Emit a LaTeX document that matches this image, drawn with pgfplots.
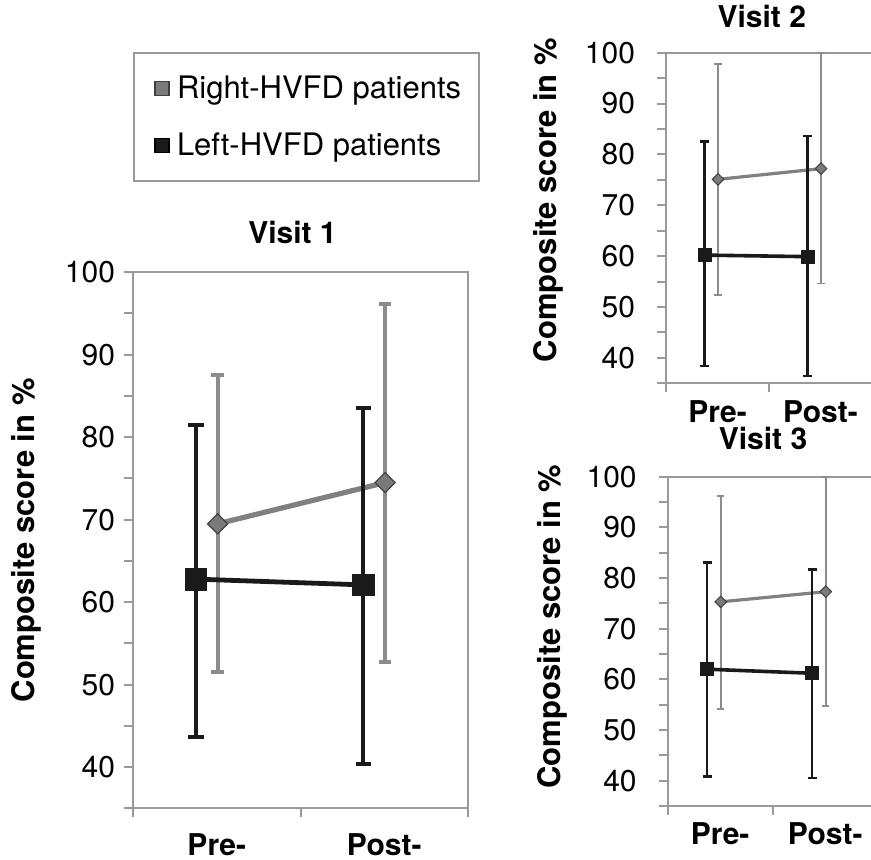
\documentclass[border=0pt]{standalone}
\usepackage{fontspec}
\setmainfont{TeX Gyre Heros}
\usepackage{pgfplots}
\pgfplotsset{compat=1.18}
\usepackage{pgfplotstable}

\definecolor{axgray}{HTML}{9A9A9A}
\definecolor{lgray}{HTML}{808080}
\definecolor{ebgray}{HTML}{8C8C8C}
\definecolor{dk}{HTML}{1A1A1A}
\definecolor{mkgray}{HTML}{7A7A7A}

% Visit 1
\pgfplotstableread{
x y ep em
0.375 62.8 18.7 19.1
1.375 62.1 21.4 21.7
}\vOneL
\pgfplotstableread{
x y ep em
0.505 69.5 18.1 17.9
1.505 74.5 21.7 21.8
}\vOneR
% Visit 2
\pgfplotstableread{
x y ep em
0.375 60.2 22.3 21.8
1.375 59.9 23.7 23.5
}\vTwoL
\pgfplotstableread{
x y ep em
0.505 75.1 22.6 22.7
1.505 77.2 22.7 22.6
}\vTwoR
% Visit 3
\pgfplotstableread{
x y ep em
0.375 62.0 21.1 21.2
1.375 61.2 20.5 20.7
}\vThreeL
\pgfplotstableread{
x y ep em
0.505 75.3 20.9 21.2
1.505 77.3 22.6 22.6
}\vThreeR

\pgfplotsset{
  panel/.style={
    scale only axis,
    xmin=0, xmax=2, ymin=35, ymax=100,
    axis line style={axgray, line width=1pt},
    tick style={axgray, line width=1pt},
    tick align=outside, tick pos=left,
    major tick length=4.5pt, minor tick length=4.5pt,
    xtick={0,1,2}, xticklabels={},
    extra x ticks={0.5,1.5},
    extra x tick labels={Pre-,Post-},
    extra x tick style={major tick length=0pt,
      xticklabel style={font=\fontsize{15}{18}\selectfont\bfseries, text=black}},
    ytick={40,50,...,100}, minor ytick={35,45,...,95},
    /pgf/number format/assume math mode=true,
    yticklabel style={font=\fontsize{15}{18}\selectfont, text=black},
    title style={font=\fontsize{15}{18}\selectfont\bfseries, anchor=base},
    ylabel={Composite score in \%},
    clip=false,
  },
}

\begin{document}
\begin{tikzpicture}
\path[use as bounding box] (0,0) rectangle (435.5pt,430pt);

% ---------------- Visit 1 ----------------
\begin{axis}[panel,
  at={(66.5pt,25.75pt)}, anchor=south west,
  width=167.5pt, height=268.15pt,
  title={Visit 1},
  title style={at={(axis description cs:0.476,1)}, yshift=8.25pt},
  extra x tick style={xticklabel style={yshift=-9pt}},
  yticklabel style={xshift=-1pt},
  every axis y label/.style={at={(axis description cs:-0.318,0.5)}, rotate=90, anchor=center,
    font=\fontsize{15.5}{18}\selectfont\bfseries},
  legend style={at={(axis description cs:0,1.4106)}, anchor=north west,
    draw=axgray, line width=1pt, inner xsep=7pt, inner ysep=9.5pt,
    row sep=11.5pt, font=\fontsize{15.5}{18}\selectfont, cells={anchor=west}},
  legend cell align=left,
]
\addlegendimage{legend image code/.code={\path[draw=none, fill=none] (0pt,0pt) rectangle (12.5pt,0.1pt);
  \draw[fill=mkgray, draw=black!75, line width=0.6pt] (3.5pt,-3.5pt) rectangle (10.5pt,3.5pt);}}
\addlegendentry{Right-HVFD patients}
\addlegendimage{legend image code/.code={\path[draw=none, fill=none] (0pt,0pt) rectangle (12.5pt,0.1pt);
  \draw[fill=dk, draw=black, line width=0.6pt] (3.5pt,-3.5pt) rectangle (10.5pt,3.5pt);}}
\addlegendentry{Left-HVFD patients}

\addplot[forget plot, color=lgray, line width=2.6pt,
  mark=square*, mark size=3.55pt,
  mark options={rotate=45, fill=mkgray, draw=black!75, line width=0.6pt},
  error bars/.cd, y dir=both, y explicit,
  error bar style={ebgray, line width=2pt},
  error mark options={rotate=90, ebgray, mark size=3.1pt, line width=2pt}]
  table[x=x, y=y, y error plus=ep, y error minus=em] {\vOneR};
\addplot[forget plot, color=dk, line width=2.4pt,
  mark=square*, mark size=5.4pt,
  mark options={fill=dk, draw=dk, line width=0.4pt},
  error bars/.cd, y dir=both, y explicit,
  error bar style={dk, line width=2pt},
  error mark options={rotate=90, dk, mark size=3.9pt, line width=2pt}]
  table[x=x, y=y, y error plus=ep, y error minus=em] {\vOneL};
\end{axis}

% ---------------- Visit 2 ----------------
\begin{axis}[panel,
  at={(333pt,238.35pt)}, anchor=south west,
  width=103pt, height=165.3pt,
  title={Visit 2},
  title style={at={(axis description cs:0.465,1)}, yshift=6.7pt},
  extra x tick style={xticklabel style={yshift=-5pt}},
  yticklabel style={xshift=-7.5pt},
  every axis y label/.style={at={(axis description cs:-0.573,0.554)}, rotate=90, anchor=center,
    font=\fontsize{15.5}{18}\selectfont\bfseries},
]
\addplot[color=lgray, line width=1.6pt,
  mark=square*, mark size=2.05pt,
  mark options={rotate=45, fill=mkgray, draw=black!75, line width=0.5pt},
  error bars/.cd, y dir=both, y explicit,
  error bar style={ebgray, line width=0.9pt},
  error mark options={rotate=90, ebgray, mark size=1.8pt, line width=0.9pt}]
  table[x=x, y=y, y error plus=ep, y error minus=em] {\vTwoR};
\addplot[color=dk, line width=1.8pt,
  mark=square*, mark size=3.3pt,
  mark options={fill=dk, draw=dk, line width=0.4pt},
  error bars/.cd, y dir=both, y explicit,
  error bar style={dk, line width=1.2pt},
  error mark options={rotate=90, dk, mark size=2.25pt, line width=1.2pt}]
  table[x=x, y=y, y error plus=ep, y error minus=em] {\vTwoL};
\end{axis}

% ---------------- Visit 3 ----------------
\begin{axis}[panel,
  at={(333.85pt,27pt)}, anchor=south west,
  width=105pt, height=164.65pt,
  title={Visit 3},
  title style={at={(axis description cs:0.454,1)}, yshift=7.5pt},
  extra x tick style={xticklabel style={yshift=-5pt}},
  yticklabel style={xshift=-7.5pt},
  every axis y label/.style={at={(axis description cs:-0.549,0.545)}, rotate=90, anchor=center,
    font=\fontsize{15.5}{18}\selectfont\bfseries},
]
\addplot[color=lgray, line width=1.6pt,
  mark=square*, mark size=2.05pt,
  mark options={rotate=45, fill=mkgray, draw=black!75, line width=0.5pt},
  error bars/.cd, y dir=both, y explicit,
  error bar style={ebgray, line width=0.9pt},
  error mark options={rotate=90, ebgray, mark size=1.8pt, line width=0.9pt}]
  table[x=x, y=y, y error plus=ep, y error minus=em] {\vThreeR};
\addplot[color=dk, line width=1.8pt,
  mark=square*, mark size=3.3pt,
  mark options={fill=dk, draw=dk, line width=0.4pt},
  error bars/.cd, y dir=both, y explicit,
  error bar style={dk, line width=1.2pt},
  error mark options={rotate=90, dk, mark size=2.25pt, line width=1.2pt}]
  table[x=x, y=y, y error plus=ep, y error minus=em] {\vThreeL};
\end{axis}
\end{tikzpicture}
\end{document}
